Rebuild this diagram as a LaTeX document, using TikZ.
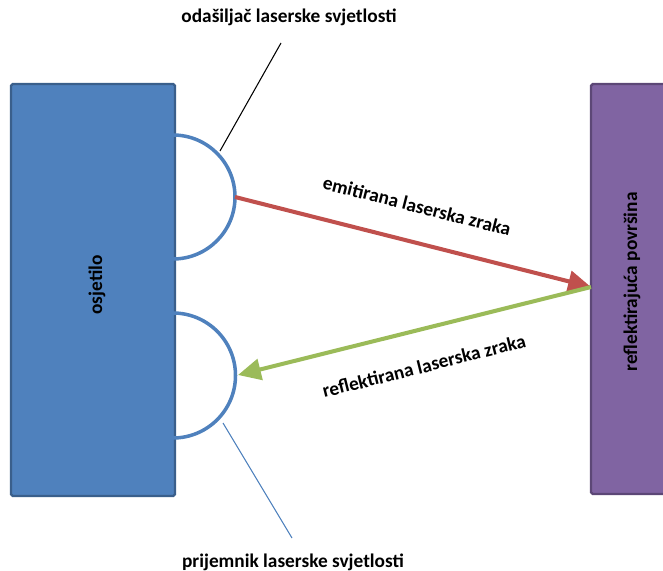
\documentclass[tikz,border=0pt]{standalone}
\usepackage{fontspec}
\setmainfont{Carlito}
\usetikzlibrary{arrows.meta}

\definecolor{osjblue}{HTML}{4F81BD}
\definecolor{osjedge}{HTML}{3A5F8B}
\definecolor{povrpurple}{HTML}{8064A2}
\definecolor{povredge}{HTML}{5C4776}
\definecolor{emitred}{HTML}{C0504D}
\definecolor{reflgreen}{HTML}{9BBB59}

\tikzset{
  lbl/.style={font=\fontsize{11}{13}\selectfont\bfseries, inner sep=0pt},
  block/.style={line width=1.4pt, rounded corners=1pt},
  sensor/.style={draw=osjblue, line width=2pt},
  ray/.style={line width=2.3pt, -{Triangle[length=13pt, width=12pt]}}
}

\begin{document}
\begin{tikzpicture}[x=0.02cm, y=-0.02cm]
\clip (0,0) rectangle (663,571);

  % Blocks
  \draw[block, draw=osjedge, fill=osjblue] (11,84) rectangle (175,496);
  \draw[block, draw=povredge, fill=povrpurple] (591,84) rectangle (720,494);
  \node[lbl, rotate=90] (osjetilo) at (97,285) {osjetilo};
  \node[lbl, rotate=90] (povrsina) at (632,282) {reflektirajuća površina};

  % Transmitter and receiver
  \draw[sensor] (173,135) arc[start angle=-90, end angle=90, radius=62];
  \draw[sensor] (173,313) arc[start angle=-90, end angle=90, radius=62.5];

  \coordinate (emit) at (235,197);
  \coordinate (hit)  at (591,287);
  \coordinate (recv) at (238,375);

  % Rays
  \draw[ray, emitred]   (emit) -- (hit);
  \draw[ray, reflgreen] (hit) -- (recv);
  \node[lbl, rotate=-14.3] (emitlbl) at (417,206) {emitirana laserska zraka};
  \node[lbl, rotate=14.1]  (refllbl) at (424,366) {reflektirana laserska zraka};

  % Callouts
  \node[lbl] (odasiljac) at (289,17)  {odašiljač laserske svjetlosti};
  \node[lbl] (prijemnik) at (293,562) {prijemnik laserske svjetlosti};
  \coordinate (txTouch) at (220,151);
  \coordinate (txEnd)   at (281,43);
  \coordinate (rxTouch) at (223,423);
  \coordinate (rxEnd)   at (292,538);
  \draw[line width=0.6pt] (txTouch) -- (txEnd);
  \draw[osjblue, line width=0.6pt] (rxTouch) -- (rxEnd);
\end{tikzpicture}
\end{document}
